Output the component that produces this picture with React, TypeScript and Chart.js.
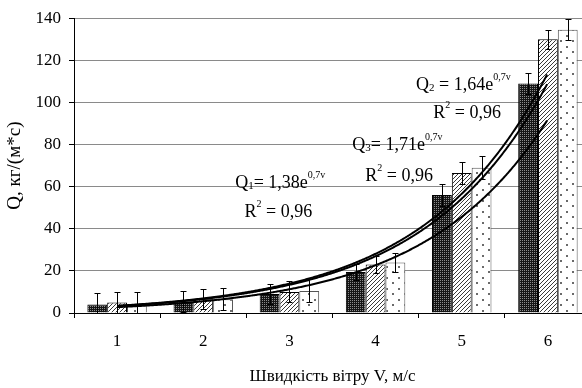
import React, { useEffect, useRef } from "react";
import { Chart, registerables } from "chart.js";

Chart.register(...registerables);

// Wind speed categories (m/s)
const windSpeeds = ["1", "2", "3", "4", "5", "6"];

// Measured flow Q, kg/(m*s), for three series
const q1Values = [4, 5.5, 9, 19.5, 56, 109];
const q2Values = [5, 6.5, 10, 23, 66.5, 130];
const q3Values = [4, 6.5, 10.5, 24, 69, 134.5];

// Error bar half-widths for each series
const q1Errors = [5.5, 4.8, 4.6, 3.9, 5.2, 5.2];
const q2Errors = [5, 4.7, 5, 4.2, 5.1, 4.6];
const q3Errors = [6, 5.3, 5.5, 4.7, 5.4, 4.9];

// Y axis tick values
const yTicks = [0, 20, 40, 60, 80, 100, 120, 140];

// Exponential trend lines Q = a * e^(b*v), with their R^2
const trendSeries = ["1", "2", "3"];
const trendCoefs = [1.38, 1.64, 1.71];
const trendRate = 0.7;
const trendR2 = [0.96, 0.96, 0.96];
const trendFrom = 1;
const trendTo = 6;

// Where each equation label sits, in data units (v, Q): equation line, then R^2 line
const labelAnchors = [
  { eq: [2.37, 59.5], r2: [2.48, 45.4], gap: "" },
  { eq: [4.47, 105.8], r2: [4.67, 92.7], gap: " " },
  { eq: [3.73, 77.3], r2: [3.88, 62.7], gap: "" },
];

const FONT = '"Liberation Serif", "Times New Roman", serif';

const comma = (n: number, digits: number) => n.toFixed(digits).replace(".", ",");

function makePattern(kind: "dense" | "hatch" | "dots"): CanvasPattern | string {
  const c = document.createElement("canvas");
  const g = c.getContext("2d");
  if (!g) return "#888";
  if (kind === "dense") {
    c.width = 2;
    c.height = 2;
    g.fillStyle = "#151515";
    g.fillRect(0, 0, 2, 2);
    g.fillStyle = "#8c8c8c";
    g.fillRect(0, 0, 1, 1);
  } else if (kind === "hatch") {
    c.width = 4;
    c.height = 4;
    g.fillStyle = "#ffffff";
    g.fillRect(0, 0, 4, 4);
    g.fillStyle = "#3a3a3a";
    for (let i = 0; i < 4; i++) g.fillRect(i, 3 - i, 1, 1);
  } else {
    c.width = 12;
    c.height = 11;
    g.fillStyle = "#ffffff";
    g.fillRect(0, 0, 12, 11);
    g.fillStyle = "#6a6a6a";
    g.fillRect(2, 2, 2, 2);
    g.fillRect(8, 7, 2, 2);
  }
  return g.createPattern(c, "repeat") || "#888";
}

// Category scale position of a wind speed v (category "1" sits at index 0)
const speedPixel = (xScale: any, v: number) => xScale.getPixelForValue(v - 1);

type Part = { text: string; role: "base" | "sub" | "sup" };

function drawRich(ctx: CanvasRenderingContext2D, x: number, y: number, parts: Part[]) {
  let cx = x;
  for (const p of parts) {
    const size = p.role === "base" ? 18 : p.role === "sub" ? 11 : 10;
    const dy = p.role === "sup" ? -10 : p.role === "sub" ? 1 : 0;
    ctx.font = `${size}px ${FONT}`;
    ctx.fillText(p.text, cx, y + dy);
    cx += ctx.measureText(p.text).width;
  }
}

// Fitted exponential curves, drawn over the bars
const trendPlugin = {
  id: "trendCurves",
  afterDatasetsDraw(chart: any) {
    const { ctx, chartArea, scales } = chart;
    const xs = scales.x;
    const ys = scales.y;
    ctx.save();
    ctx.beginPath();
    ctx.rect(chartArea.left, chartArea.top, chartArea.right - chartArea.left, chartArea.bottom - chartArea.top);
    ctx.clip();
    ctx.strokeStyle = "#000";
    ctx.lineWidth = 2;
    ctx.lineJoin = "round";
    trendCoefs.forEach((a) => {
      const x0 = speedPixel(xs, trendFrom);
      const x1 = speedPixel(xs, trendTo);
      ctx.beginPath();
      for (let px = x0; px <= x1 + 0.01; px += 1) {
        const v = xs.getValueForPixel ? trendFrom + ((px - x0) / (x1 - x0)) * (trendTo - trendFrom) : trendFrom;
        const py = ys.getPixelForValue(a * Math.exp(trendRate * v));
        if (px === x0) ctx.moveTo(px, py);
        else ctx.lineTo(px, py);
      }
      ctx.stroke();
    });
    ctx.restore();
  },
};

const errorBarPlugin = {
  id: "errorBars",
  afterDatasetsDraw(chart: any) {
    const { ctx, chartArea, scales } = chart;
    const yScale = scales.y;
    const series = [
      { values: q1Values, errors: q1Errors },
      { values: q2Values, errors: q2Errors },
      { values: q3Values, errors: q3Errors },
    ];
    ctx.save();
    ctx.beginPath();
    ctx.rect(chartArea.left, chartArea.top - 2, chartArea.right - chartArea.left, chartArea.bottom - chartArea.top + 2);
    ctx.clip();
    ctx.strokeStyle = "#000";
    ctx.lineWidth = 1;
    series.forEach((s, di) => {
      const meta = chart.getDatasetMeta(di);
      meta.data.forEach((bar: any, i: number) => {
        const hi = Math.round(yScale.getPixelForValue(s.values[i] + s.errors[i])) + 0.5;
        const lo = Math.round(yScale.getPixelForValue(s.values[i] - s.errors[i])) + 0.5;
        const x = Math.round(bar.x) + 0.5;
        ctx.beginPath();
        ctx.moveTo(x, hi);
        ctx.lineTo(x, lo);
        ctx.moveTo(x - 3, hi);
        ctx.lineTo(x + 3, hi);
        ctx.moveTo(x - 3, lo);
        ctx.lineTo(x + 3, lo);
        ctx.stroke();
      });
    });
    ctx.restore();
  },
};

const equationPlugin = {
  id: "equations",
  afterDraw(chart: any) {
    const { ctx, scales } = chart;
    const xs = scales.x;
    const ys = scales.y;
    ctx.save();
    ctx.fillStyle = "#000";
    ctx.textBaseline = "alphabetic";
    ctx.textAlign = "left";
    trendSeries.forEach((name, i) => {
      const a = labelAnchors[i];
      drawRich(ctx, speedPixel(xs, a.eq[0]), ys.getPixelForValue(a.eq[1]), [
        { text: "Q", role: "base" },
        { text: name, role: "sub" },
        { text: `${a.gap}= ${comma(trendCoefs[i], 2)}e`, role: "base" },
        { text: `${comma(trendRate, 1)}v`, role: "sup" },
      ]);
      drawRich(ctx, speedPixel(xs, a.r2[0]), ys.getPixelForValue(a.r2[1]), [
        { text: "R", role: "base" },
        { text: "2", role: "sup" },
        { text: ` = ${comma(trendR2[i], 2)}`, role: "base" },
      ]);
    });
    ctx.restore();
  },
};

export default function App() {
  const canvasRef = useRef<HTMLCanvasElement | null>(null);

  useEffect(() => {
    const canvas = canvasRef.current;
    if (!canvas) return;

    const barCommon = {
      borderColor: "#000",
      borderWidth: 1,
      categoryPercentage: 0.69,
      barPercentage: 1,
    };

    const chart = new Chart(canvas, {
      type: "bar",
      data: {
        labels: windSpeeds,
        datasets: [
          { ...barCommon, label: "Q1", data: q1Values, backgroundColor: makePattern("dense") },
          { ...barCommon, label: "Q2", data: q2Values, backgroundColor: makePattern("hatch") },
          { ...barCommon, label: "Q3", data: q3Values, backgroundColor: makePattern("dots"), borderColor: "#555" },
        ],
      },
      options: {
        responsive: false,
        animation: false,
        events: [],
        layout: { padding: { top: 14, left: 0, right: 0, bottom: 0 } },
        plugins: { legend: { display: false }, tooltip: { enabled: false } },
        scales: {
          x: {
            type: "category",
            offset: true,
            grid: { offset: true, drawOnChartArea: false, tickLength: 5, color: "#000", tickColor: "#000" },
            border: { color: "#000", width: 1 },
            ticks: { font: { family: FONT, size: 17 }, color: "#000", padding: 13 },
            title: {
              display: true,
              text: "Швидкість вітру V, м/с",
              font: { family: FONT, size: 17 },
              color: "#000",
              padding: { top: 0, bottom: 1 },
            },
            afterFit: (s: any) => {
              s.height = 75;
            },
          },
          y: {
            type: "linear",
            min: 0,
            max: 140,
            afterBuildTicks: (s: any) => {
              s.ticks = yTicks.map((value) => ({ value }));
            },
            grid: { color: "#8a8a8a", tickColor: "#000", tickLength: 5, lineWidth: 1 },
            border: { color: "#000", width: 1 },
            ticks: { font: { family: FONT, size: 17 }, color: "#000", padding: 8 },
            title: {
              display: true,
              text: "Q, кг/(м*с)",
              font: { family: FONT, size: 19 },
              color: "#000",
              padding: { top: 4, bottom: 0 },
            },
            afterFit: (s: any) => {
              s.width = 74;
            },
          },
        },
      } as any,
      plugins: [trendPlugin, errorBarPlugin, equationPlugin],
    });

    return () => chart.destroy();
  }, []);

  return (
    <div
      style={{
        position: "fixed",
        left: 0,
        top: 0,
        width: 582,
        height: 388,
        overflow: "hidden",
        background: "#fff",
      }}
    >
      <canvas ref={canvasRef} width={591} height={388} style={{ display: "block", width: 591, height: 388 }} />
    </div>
  );
}
